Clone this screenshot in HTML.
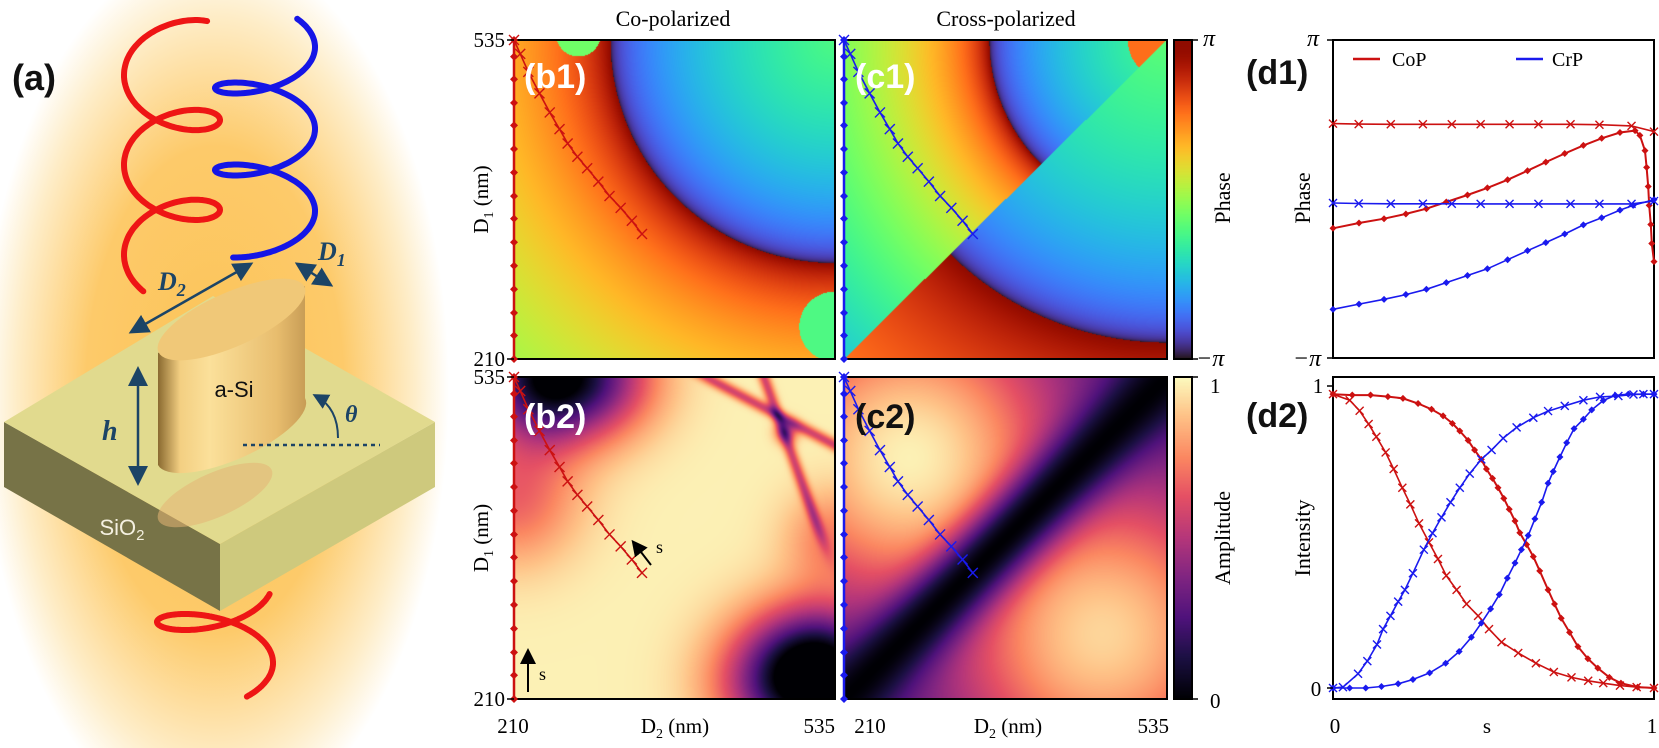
<!DOCTYPE html>
<html><head><meta charset="utf-8"><style>
html,body{margin:0;padding:0;background:#fff;}
#root{position:relative;width:1659px;height:748px;overflow:hidden;background:#fff;font-family:"Liberation Serif",serif;}
canvas{position:absolute;}
svg{position:absolute;left:0;top:0;}
</style></head><body>
<div id="root">
<canvas id="hb1" width="321" height="319" style="left:514px;top:40px"></canvas>
<canvas id="hc1" width="323" height="319" style="left:844px;top:40px"></canvas>
<canvas id="hb2" width="321" height="322" style="left:514px;top:377px"></canvas>
<canvas id="hc2" width="323" height="322" style="left:844px;top:377px"></canvas>
<canvas id="cbp" width="18" height="319" style="left:1174px;top:40px"></canvas>
<canvas id="cba" width="18" height="322" style="left:1174px;top:377px"></canvas>
<svg id="sv" width="1659" height="748" xmlns="http://www.w3.org/2000/svg">
<defs>
<radialGradient id="glow" cx="215" cy="390" r="260" gradientUnits="userSpaceOnUse" gradientTransform="translate(215 390) scale(0.9 1.7) translate(-215 -390)">
<stop offset="0" stop-color="#fcc356"/><stop offset="0.55" stop-color="#fdca6a"/><stop offset="0.85" stop-color="#feedc8"/><stop offset="1" stop-color="#ffffff"/>
</radialGradient>
<linearGradient id="cyl" x1="0" x2="1" y1="0" y2="0">
<stop offset="0" stop-color="#8a6a30"/><stop offset="0.15" stop-color="#f3cf82"/><stop offset="0.35" stop-color="#fbe09a"/><stop offset="0.8" stop-color="#e8bd6e"/><stop offset="1" stop-color="#c79c55"/>
</linearGradient>
<marker id="ah" markerWidth="8" markerHeight="8" refX="6" refY="4" orient="auto-start-reverse"><path d="M0,0 L8,4 L0,8 z" fill="#1c4466"/></marker>
<marker id="ak" markerWidth="8" markerHeight="8" refX="6" refY="4" orient="auto-start-reverse"><path d="M0,0 L8,4 L0,8 z" fill="#000"/></marker>
</defs>
<g id="panelA">
<rect x="0" y="0" width="470" height="748" fill="url(#glow)"/>
<path id="helixLow" fill="none" stroke="#ee1515" stroke-width="6" stroke-linecap="round"/>
<polygon points="4,422 220,544 220,611 4,487" fill="#777347"/>
<polygon points="220,544 435,422 435,487 220,611" fill="#cec97d"/>
<polygon points="4,422 213,296 435,422 220,544" fill="#e1da8e"/>
<ellipse cx="215" cy="495" rx="62" ry="22" transform="rotate(-24 215 495)" fill="#e6b574" opacity="0.55"/>
<path d="M158,353 L158,465 A78,27 -24 0 0 305,398 L305,286 Z" fill="url(#cyl)"/>
<ellipse cx="231.5" cy="319.5" rx="80" ry="27" transform="rotate(-24 231.5 319.5)" fill="#f0c878"/>
<text x="234" y="397" font-family="Liberation Sans,sans-serif" font-size="22" text-anchor="middle" fill="#111">a-Si</text>
<text x="122" y="535" font-family="Liberation Sans,sans-serif" font-size="22" text-anchor="middle" fill="#f4f0e0">SiO<tspan font-size="15" dy="5">2</tspan></text>
<path id="helixRed" fill="none" stroke="#ee1515" stroke-width="6" stroke-linecap="round"/>
<path id="helixBlue" fill="none" stroke="#1515e6" stroke-width="6" stroke-linecap="round"/>
<line x1="133" y1="331" x2="249" y2="265" stroke="#1c4466" stroke-width="2.5" marker-start="url(#ah)" marker-end="url(#ah)"/>
<line x1="299" y1="265" x2="329" y2="284" stroke="#1c4466" stroke-width="2.5" marker-start="url(#ah)" marker-end="url(#ah)"/>
<line x1="138" y1="371" x2="138" y2="481" stroke="#1c4466" stroke-width="2.5" marker-start="url(#ah)" marker-end="url(#ah)"/>
<line x1="243" y1="445" x2="380" y2="445" stroke="#1c4466" stroke-width="2.5" stroke-dasharray="4,4"/>
<path d="M338,438 Q338,408 316,396" fill="none" stroke="#1c4466" stroke-width="2" marker-end="url(#ah)"/>
<text x="158" y="290" font-family="Liberation Serif,serif" font-style="italic" font-weight="bold" font-size="26" fill="#1c4466">D<tspan font-size="18" dy="6">2</tspan></text>
<text x="318" y="260" font-family="Liberation Serif,serif" font-style="italic" font-weight="bold" font-size="26" fill="#1c4466">D<tspan font-size="18" dy="6">1</tspan></text>
<text x="102" y="440" font-family="Liberation Serif,serif" font-style="italic" font-weight="bold" font-size="28" fill="#1c4466">h</text>
<text x="345" y="422" font-family="Liberation Serif,serif" font-style="italic" font-weight="bold" font-size="24" fill="#1c4466">θ</text>
<text x="12" y="90" font-family="Liberation Sans,sans-serif" font-weight="bold" font-size="36" fill="#111">(a)</text>
</g>
<g id="overlay"></g>
</svg>
</div>
<script>
// ---------- data ----------
const pathD2 = [210,216.3,224.5,235.8,246.2,256.1,264.3,274.2,284.1,295.4,306.7,318,329.3,339.6];
const pathD1 = [535,520.9,502.5,480.6,461.2,444.2,429.6,416,404.3,390.7,376.1,364,350.8,337.3];
const edgeD1 = [535,518,495,471,448,424,400,376,353,329,305,281,257,234,210];
const sRedDot = [0,.081,.159,.227,.291,.353,.419,.481,.544,.606,.663,.722,.78,.837,.894,.941,.956,.972,.977,.982,.985,.99,.993,1];
const phRedDot = [-.184,-.151,-.124,-.094,-.061,-.019,.025,.07,.121,.178,.232,.286,.337,.382,.418,.43,.4,.304,.199,.079,-.04,-.16,-.28,-.394];
const sX = [0,.08,.18,.28,.37,.46,.55,.64,.74,.83,.93,1];
const phRedX = [.474,.471,.47,.47,.47,.47,.47,.47,.47,.467,.46,.424];
const phBlueX = [-.025,-.028,-.03,-.03,-.03,-.031,-.031,-.031,-.031,-.031,-.031,-.013];
const sBlueDot = [0,.081,.159,.227,.291,.353,.419,.481,.544,.606,.663,.722,.78,.837,.894,.935,1];
const phBlueDot = [-.694,-.661,-.631,-.601,-.568,-.526,-.481,-.439,-.382,-.325,-.274,-.22,-.163,-.118,-.07,-.04,-.004];
const sIRedDot = [0,.06,.117,.171,.218,.265,.307,.343,.372,.395,.421,.441,.462,.478,.497,.514,.532,.549,.567,.582,.603,.624,.644,.67,.69,.711,.737,.763,.794,.825,.861,.897,.949,1];
const iRedDot = [.973,.97,.97,.965,.959,.942,.923,.901,.876,.851,.82,.788,.757,.725,.694,.663,.628,.592,.553,.514,.475,.435,.388,.325,.278,.231,.184,.137,.097,.066,.035,.016,.003,0];
const sIBlueDot = [0,.052,.102,.151,.203,.249,.301,.351,.393,.431,.462,.491,.518,.543,.567,.587,.608,.629,.65,.67,.686,.707,.728,.751,.78,.806,.842,.879,.92,.967,1];
const iBlueDot = [0,0,0,.005,.014,.028,.05,.082,.121,.168,.215,.262,.309,.364,.414,.458,.505,.56,.615,.678,.717,.765,.812,.859,.89,.921,.952,.969,.973,.973,.973];
const sIRedX = [0,.052,.083,.111,.135,.164,.189,.216,.241,.268,.299,.327,.353,.385,.416,.452,.486,.525,.577,.632,.688,.743,.795,.842,.894,.946,1];
const iRedX = [.973,.953,.918,.874,.832,.78,.725,.663,.608,.545,.482,.427,.372,.325,.278,.239,.195,.152,.116,.082,.053,.035,.024,.016,.008,.003,0];
const sIBlueX = [0,.031,.078,.107,.137,.156,.179,.203,.224,.249,.283,.31,.338,.366,.395,.426,.462,.494,.53,.572,.624,.67,.722,.78,.832,.889,.936,.967,1];
const iBlueX = [0,.003,.047,.089,.144,.195,.239,.286,.325,.38,.458,.513,.565,.615,.663,.71,.757,.788,.827,.863,.895,.917,.934,.953,.964,.967,.972,.973,.973];
const phaseCenter = [1,1];
const ampDarkSpots = [[0.1,1.0,0.2,0.95],[0.97,0.08,0.2,1.0],[0.8,0.05,0.2,0.45],[0.0,0.62,0.2,0.3],[0.3,1.0,0.18,0.35],[1.0,0.5,0.15,0.25]];

// ---------- helpers ----------
const NS='http://www.w3.org/2000/svg';
const ov=document.getElementById('overlay');
function el(tag,attrs,parent){const e=document.createElementNS(NS,tag);for(const k in attrs)e.setAttribute(k,attrs[k]);(parent||ov).appendChild(e);return e;}
function turbo(x){x=Math.max(0,Math.min(1,x));
 const r=0.13572138+x*(4.61539260+x*(-42.66032258+x*(132.13108234+x*(-152.94239396+x*59.28637943))));
 const g=0.09140261+x*(2.19418839+x*(4.84296658+x*(-14.18503333+x*(4.27729857+x*2.82956604))));
 const b=0.10667330+x*(12.64194608+x*(-60.58204836+x*(110.36276771+x*(-89.90310912+x*27.34824973))));
 return [r*255,g*255,b*255];}
const mag=[[0,0,0,4],[.13,28,16,68],[.25,79,18,123],[.38,129,37,129],[.5,181,54,122],[.63,229,80,100],[.75,251,135,97],[.88,254,194,135],[1,252,250,190]];
function magma(x){x=Math.max(0,Math.min(1,x));for(let i=1;i<mag.length;i++){if(x<=mag[i][0]){const a=mag[i-1],b=mag[i],t=(x-a[0])/(b[0]-a[0]);return [a[1]+(b[1]-a[1])*t,a[2]+(b[2]-a[2])*t,a[3]+(b[3]-a[3])*t];}}return mag[8].slice(1);}
function wrap(p){p=((p+1)%2+2)%2-1;return p;}
function paint(id,fn,cm){const c=document.getElementById(id),ctx=c.getContext('2d'),W=c.width,H=c.height,img=ctx.createImageData(W,H);
 for(let j=0;j<H;j++)for(let i=0;i<W;i++){const u=i/(W-1),v=1-j/(H-1);const col=cm(fn(u,v));const k=(j*W+i)*4;img.data[k]=col[0];img.data[k+1]=col[1];img.data[k+2]=col[2];img.data[k+3]=255;}
 ctx.putImageData(img,0,0);}
function rr(u,v){return Math.hypot(u-phaseCenter[0],v-phaseCenter[1]);}
function radial(r,r0,outRange,outAmp,inAmp){
 if(r>=r0) return 1-outAmp*Math.sqrt(Math.min(1,(r-r0)/outRange));
 return -1+inAmp*Math.sqrt((r0-r)/r0);}
paint('hb1',(u,v)=>{let p=radial(rr(u,v),0.7,0.71,0.95,0.8);
 if(Math.hypot(u-1,v-0.1)<0.11) p=-0.2;
 if(Math.hypot(u-0.2,v-1.02)<0.07) p=-0.1;
 return (wrap(p)+1)/2;},turbo);
paint('hc1',(u,v)=>{const r=rr(u,v);let p;
 if(v>u){p=radial(r,0.55,0.86,1.45,0.8); if(r<0.12) p=0.55;}
 else {p=radial(r,0.95,0.45,0.45,0.85);}
 return (wrap(p)+1)/2;},turbo);
function lineDist(u,v,x1,y1,x2,y2){const dx=x2-x1,dy=y2-y1,L=Math.hypot(dx,dy);return Math.abs((u-x1)*dy-(v-y1)*dx)/L;}
function smooth(x){return 1/(1+Math.exp(-x));}
paint('hb2',(u,v)=>{let a=0.98;
 for(const s of ampDarkSpots){const d=Math.hypot(u-s[0],v-s[1]);a-=s[3]*Math.exp(-(d/s[2])*(d/s[2]));}
 a-=0.4*Math.exp(-Math.pow(lineDist(u,v,0.6,1.0,1.0,0.79)/0.018,2))*smooth((u-0.55)*40);
 a-=0.4*Math.exp(-Math.pow(lineDist(u,v,0.78,1.0,0.96,0.5)/0.018,2))*smooth((v-0.5)*30);
 a-=0.4*Math.exp(-Math.pow(Math.hypot(u-0.85,v-0.83)/0.035,2));
 return Math.max(0,a);},magma);
paint('hc2',(u,v)=>{const d=(v-u)/1.414;const base=1-Math.exp(-(d/0.11)*(d/0.11));
 let pk = v>u ? 0.2+0.78*Math.exp(-Math.pow(Math.hypot(u-0.2,v-0.75)/0.5,2)) : 0.2+0.72*Math.exp(-Math.pow(Math.hypot(u-0.8,v-0.2)/0.5,2));
 return base*pk;},magma);
paint('cbp',(u,v)=>v,turbo);
paint('cba',(u,v)=>v,magma);

// ---------- helices ----------
function helix(id,cx,R,sgn,yl,k,b,t0,t1){let d='';for(let i=0;i<=300;i++){const t=t0+(t1-t0)*i/300;const x=cx+sgn*R*Math.cos(t),y=yl+k*(t-2*Math.PI)-b*Math.sin(t);d+=(i?'L':'M')+x.toFixed(1)+','+y.toFixed(1);}document.getElementById(id).setAttribute('d',d);}
helix('helixRed',172,48,1,120,14.3,29,0.75,5*Math.PI+0.93);
helix('helixBlue',265,50,-1,88,13.05,22,2.27,6*Math.PI-0.88);
helix('helixLow',215,58,-1,622+13*2*Math.PI,13,25,-2.8,4.13);

// ---------- heatmap axes ----------
const HX={b:[514,835],c:[844,1167]}, HY={r1:[40,359],r2:[377,699]};
function xs(col,d2){return HX[col][0]+(d2-210)/325*(HX[col][1]-HX[col][0]);}
function ys(row,d1){return HY[row][1]-(d1-210)/325*(HY[row][1]-HY[row][0]);}
function cross(x,y,s,col,g,name){const p=el('path',{d:`M${x-s},${y-s}L${x+s},${y+s}M${x-s},${y+s}L${x+s},${y-s}`,stroke:col,'stroke-width':1.4,fill:'none'},g);
 
 }
function dot(x,y,r,col,g,name){const p=el('path',{d:`M${x},${y-r}L${x+r},${y}L${x},${y+r}L${x-r},${y}Z`,fill:col},g);
 
 }
const T='font-family:"Liberation Serif",serif;';
function txt(x,y,s,size,anchor,extra,name,parent){const t=el('text',{x:x,y:y,'font-size':size,'text-anchor':anchor||'middle',style:T+(extra||'')},parent);t.textContent=s;
 
 return t;}
['b','c'].forEach(col=>{['r1','r2'].forEach(row=>{
 const g=el('g',{});
 
 
 const color=col==='b'?'#cc1111':'#1a1aee';
 el('rect',{x:HX[col][0],y:HY[row][0],width:HX[col][1]-HX[col][0],height:HY[row][1]-HY[row][0],fill:'none',stroke:'#000','stroke-width':2},g);
 el('line',{x1:HX[col][0],y1:ys(row,edgeD1[0]),x2:HX[col][0],y2:ys(row,edgeD1[edgeD1.length-1]),stroke:color,'stroke-width':2.5},g);
 edgeD1.forEach(d=>dot(HX[col][0],ys(row,d),4,color,g,'edge-trajectory-marker'));
 let dd='';pathD2.forEach((d,i)=>{dd+=(i?'L':'M')+xs(col,d)+','+ys(row,pathD1[i]);});
 el('path',{d:dd,stroke:color,'stroke-width':1.6,fill:'none'},g);
 pathD2.forEach((d,i)=>cross(xs(col,d),ys(row,pathD1[i]),5,color,g,'trajectory-marker'));
});});
[['(b1)',524,88,'#fff'],['(c1)',855,88,'#fff'],['(b2)',524,428,'#fff'],['(c2)',855,428,'#111']].forEach(a=>{
 const t=el('text',{x:a[1],y:a[2],'font-size':34,'font-weight':'bold',fill:a[3],style:'font-family:"Liberation Sans",sans-serif;'});t.textContent=a[0];
 
 });
txt(673,26,'Co-polarized',22,'middle','','column-title-co');
txt(1006,26,'Cross-polarized',22,'middle','','column-title-cross');
[['r1',40,359],['r2',377,699]].forEach(r=>{
 txt(505,r[1]+7,'535',21,'end','','y-tick-535');
 txt(505,r[2]+7,'210',21,'end','','y-tick-210');
 el('line',{x1:507,y1:r[1],x2:514,y2:r[1],stroke:'#000','stroke-width':1.5});el('line',{x1:507,y1:r[2],x2:514,y2:r[2],stroke:'#000','stroke-width':1.5});
 const c=(r[1]+r[2])/2;const t=txt(0,0,'',21,'middle','','y-axis-title-d1');t.setAttribute('transform',`translate(488 ${c}) rotate(-90)`);
 t.innerHTML='D<tspan font-size="14" dy="5">1</tspan><tspan dy="-5"> (nm)</tspan>';
});
txt(513,733,'210',21,'middle','','x-tick-210-b');txt(835,733,'535',21,'end','','x-tick-535-b');
txt(870,733,'210',21,'middle','','x-tick-210-c');txt(1169,733,'535',21,'end','','x-tick-535-c');
[675,1008].forEach(x=>{const t=txt(x,733,'',21,'middle','','x-axis-title-d2');t.innerHTML='D<tspan font-size="14" dy="5">2</tspan><tspan dy="-5"> (nm)</tspan>';});
el('line',{x1:528,y1:692,x2:528,y2:652,stroke:'#000','stroke-width':2,'marker-end':'url(#ak)'});
txt(539,680,'s',18,'start','','s-arrow-label-1');
el('line',{x1:651,y1:565,x2:634,y2:543,stroke:'#000','stroke-width':2,'marker-end':'url(#ak)'});
txt(656,553,'s',18,'start','','s-arrow-label-2');
el('rect',{x:1174,y:40,width:18,height:319,fill:'none',stroke:'#000','stroke-width':2});
el('rect',{x:1174,y:377,width:18,height:322,fill:'none',stroke:'#000','stroke-width':2});
[[40],[359],[377],[699]].forEach(a=>el('line',{x1:1192,y1:a[0],x2:1198,y2:a[0],stroke:'#000','stroke-width':1.5}));
txt(1203,46,'π',24,'start','font-style:italic;','colorbar-tick-pi');
txt(1196,366,'−π',24,'start','font-style:italic;','colorbar-tick-minus-pi');
txt(1210,393,'1',21,'start','','colorbar-tick-1');
txt(1210,708,'0',21,'start','','colorbar-tick-0');
{const t=txt(0,0,'Phase',22,'middle','','colorbar-title-phase');t.setAttribute('transform','translate(1230 198) rotate(-90)');}
{const t=txt(0,0,'Amplitude',22,'middle','','colorbar-title-amplitude');t.setAttribute('transform','translate(1230 538) rotate(-90)');}

// ---------- d panels ----------
const DX=[1333,1654], D1Y=[40,358], D2Y=[377,699];
function sx(s){return DX[0]+s*(DX[1]-DX[0]);}
function py(v){return D1Y[0]+(1-v)/2*(D1Y[1]-D1Y[0]);}
function iy(v){return 688-v*(688-386);}
el('rect',{x:DX[0],y:D1Y[0],width:DX[1]-DX[0],height:D1Y[1]-D1Y[0],fill:'none',stroke:'#000','stroke-width':2});
el('rect',{x:DX[0],y:D2Y[0],width:DX[1]-DX[0],height:D2Y[1]-D2Y[0],fill:'none',stroke:'#000','stroke-width':2});
function series(xsA,ysA,fy,color,marker,name,w){const g=el('g',{});
 
 
 let d='';xsA.forEach((s,i)=>{d+=(i?'L':'M')+sx(s).toFixed(1)+','+fy(ysA[i]).toFixed(1);});
 el('path',{d:d,stroke:color,'stroke-width':w||1.6,fill:'none'},g);
 xsA.forEach((s,i)=>marker==='x'?cross(sx(s),fy(ysA[i]),4,color,g,'x-marker'):dot(sx(s),fy(ysA[i]),3.5,color,g,'dot-marker'));}
series(sX,phRedX,py,'#cc1111','x','d1-cop-cross-series');
series(sRedDot,phRedDot,py,'#cc1111','d','d1-cop-dot-series',2);
series(sX,phBlueX,py,'#1a1aee','x','d1-crp-cross-series');
series(sBlueDot,phBlueDot,py,'#1a1aee','d','d1-crp-dot-series');
series(sIRedX,iRedX,iy,'#cc1111','x','d2-cop-cross-series');
series(sIRedDot,iRedDot,iy,'#cc1111','d','d2-cop-dot-series',2);
series(sIBlueX,iBlueX,iy,'#1a1aee','x','d2-crp-cross-series');
series(sIBlueDot,iBlueDot,iy,'#1a1aee','d','d2-crp-dot-series');
el('line',{x1:1353,y1:59,x2:1380,y2:59,stroke:'#cc1111','stroke-width':2.5});
txt(1392,66,'CoP',20,'start','','legend-cop');
el('line',{x1:1516,y1:59,x2:1543,y2:59,stroke:'#1a1aee','stroke-width':2.5});
txt(1552,66,'CrP',20,'start','','legend-crp');
[[40],[358],[386],[688]].forEach(a=>el('line',{x1:1327,y1:a[0],x2:1333,y2:a[0],stroke:'#000','stroke-width':1.5}));
txt(1313,46,'π',24,'middle','font-style:italic;','d1-tick-pi');
txt(1307,366,'−π',24,'middle','font-style:italic;','d1-tick-minus-pi');
txt(1318,393,'1',21,'middle','','d2-tick-1');
txt(1316,696,'0',21,'middle','','d2-tick-0');
txt(1335,733,'0',21,'middle','','x-tick-0');
txt(1487,733,'s',21,'middle','','x-axis-title-s');
txt(1652,733,'1',21,'middle','','x-tick-1');
{const t=txt(0,0,'Phase',22,'middle','','d1-y-axis-title');t.setAttribute('transform','translate(1310 198) rotate(-90)');}
{const t=txt(0,0,'Intensity',22,'middle','','d2-y-axis-title');t.setAttribute('transform','translate(1310 538) rotate(-90)');}
[['(d1)',1246,84],['(d2)',1246,427]].forEach(a=>{const t=el('text',{x:a[1],y:a[2],'font-size':34,'font-weight':'bold',fill:'#111',style:'font-family:"Liberation Sans",sans-serif;'});t.textContent=a[0];
 
 });
</script>
</body></html>
